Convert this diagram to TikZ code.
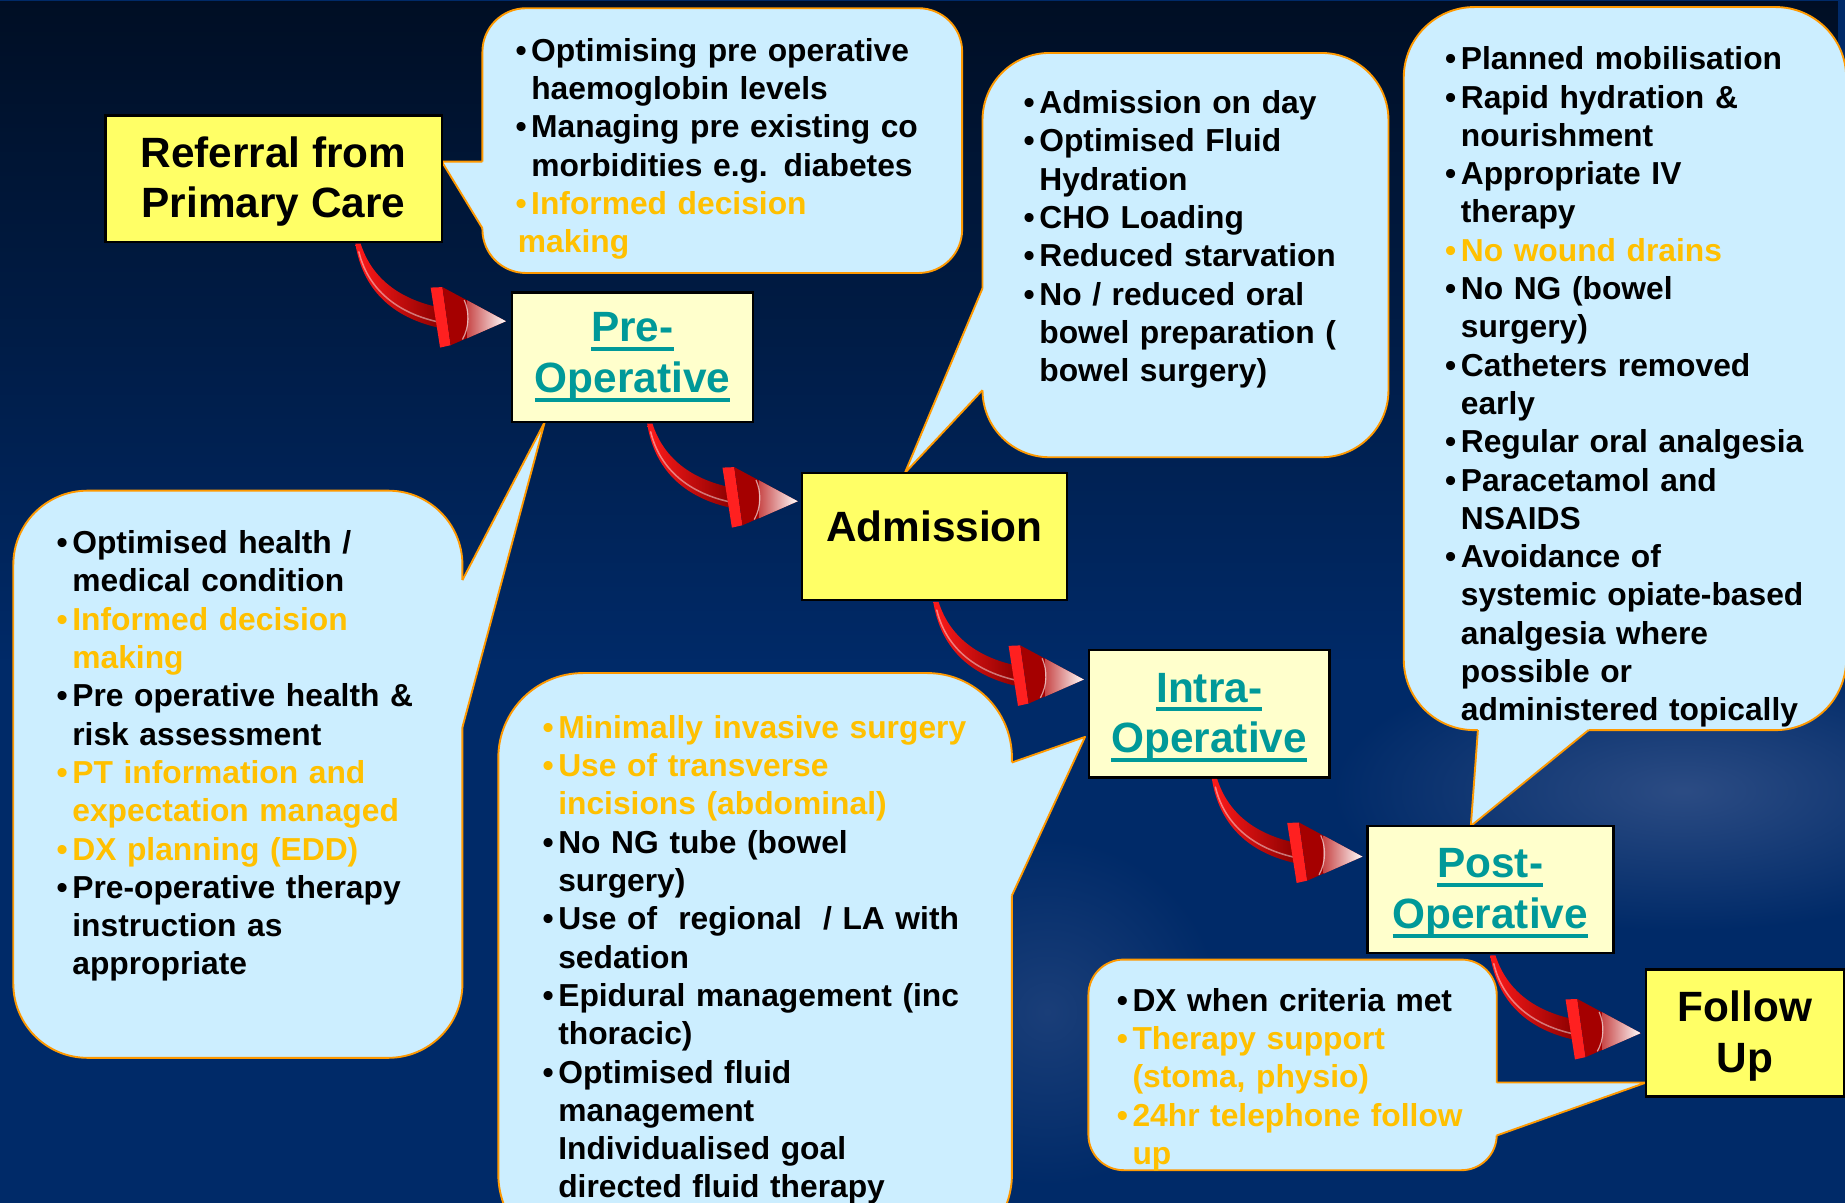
\documentclass[tikz,border=0pt]{standalone}
\usepackage{fontspec}
\setmainfont{Liberation Sans}
\usetikzlibrary{fadings}
\definecolor{bgbot}{HTML}{002A68}
\definecolor{glowc}{HTML}{2C4C84}
\definecolor{cfill}{HTML}{CCEEFF}
\definecolor{cline}{HTML}{FF9900}
\definecolor{yel}{HTML}{FFFF66}
\definecolor{lyel}{HTML}{FFFFCC}
\definecolor{teal2}{HTML}{009999}
\definecolor{orng}{HTML}{FFC000}
\definecolor{arrL}{HTML}{FF1A1A}
\definecolor{arrR}{HTML}{8A0000}
\definecolor{arrB}{HTML}{FF2020}
\definecolor{arrD}{HTML}{A50000}
\definecolor{arrC}{HTML}{C84848}
\tikzfading[name=topdark, top color=transparent!35, bottom color=transparent!100]
\tikzfading[name=glowfade, inner color=transparent!0, outer color=transparent!100]
\pgfdeclarelayer{back}
\pgfsetlayers{back,main}
\newcommand\bigtxt{\fontsize{36}{43}\selectfont\bfseries}
\newcommand\smtxt{\fontsize{27}{32.55}\selectfont\bfseries}
\newlength\bw \setlength\bw{11.3pt}
\newcommand\bul{\makebox[\bw][l]{\hspace*{-2pt}•}}
\newcommand\cont{\hspace*{\bw}}
\newcommand\up{\rule{0pt}{31pt}}
\newsavebox\ulbox
\newcommand\ulx[1]{\sbox\ulbox{#1}\rlap{\rule[-7.8pt]{\wd\ulbox}{3.4pt}}\usebox\ulbox}
\newcommand\ptr[5]{%
  \fill[cfill] (#1) -- (#2) -- ([shift={(#4,#5)}]#2) -- ([shift={(#4,#5)}]#3) -- (#3) -- cycle;
  \draw[ptrline] (#2) -- (#1) -- (#3);}
\tikzset{redarrow/.pic={
  \shade[left color=arrL, right color=arrR] (0,0) .. controls (6,38) and (30,63) .. (73,72) -- (70,54) .. controls (38,47) and (14,30) .. (4.5,0) -- cycle;
  \draw[white, opacity=0.45, line width=1.3pt, line cap=round] (3,7) .. controls (10,36) and (32,58) .. (70,66.5);
  \fill[arrB] (64,37.4) -- (74,37) -- (81,86.4) -- (72,88.4) -- cycle;
  \fill[arrD] (74,37) -- (128,66) -- (81,86.4) -- cycle;
  \shade[left color=arrC, right color=white] (95,48.2) -- (128,66) -- (95,80.5) -- cycle;
  \draw[white, opacity=0.6, line width=1pt] (92.5,48) .. controls (97,58) and (97,71) .. (91,81.5);
}}
\begin{document}
\begin{tikzpicture}[x=1pt,y=-1pt,
  box/.style={draw=black, line width=2.2pt, inner sep=0pt, outer sep=0pt, align=center, font=\bigtxt},
  callout/.style={draw=cline, line width=1.6pt, fill=cfill, rounded corners=#1, inner sep=0pt, outer sep=0pt},
  ptrline/.style={draw=cline, line width=1.6pt, line join=round},
  ctext/.style={anchor=base west, inner sep=0pt, outer sep=0pt, text width=560pt, align=left, font=\smtxt},
]
\useasboundingbox (0,0) rectangle (1568,1022);

% process boxes
\node[box, fill=yel, minimum width=286, minimum height=107.5] (ref) at (232.5,151.75) {\up Referral from\\Primary Care};
\node[box, fill=lyel, text=teal2, minimum width=205, minimum height=110] (pre) at (537.5,303.5) {\ulx{Pre-}\\\ulx{Operative}};
\node[box, fill=yel, minimum width=225, minimum height=108] (adm) at (794.15,456) {\raisebox{17pt}{Admission}};
\node[box, fill=lyel, text=teal2, minimum width=204, minimum height=108.5] (intra) at (1027.65,606.75) {\up\ulx{Intra-}\\\ulx{Operative}};
\node[box, fill=lyel, text=teal2, minimum width=209, minimum height=108] (post) at (1266.5,756) {\up\ulx{Post-}\\\ulx{Operative}};
\node[box, fill=yel, minimum width=168, minimum height=108] (fol) at (1483,878) {\up Follow\\Up};

\begin{pgfonlayer}{back}
  \fill[bgbot] (0,0) rectangle (1568,1022);
  \fill[black, path fading=topdark] (0,0) rectangle (1568,560);
  \fill[glowc, path fading=glowfade] (1430,672) ellipse [x radius=300, y radius=120];
  \fill[glowc, path fading=glowfade, opacity=0.6] (890,860) ellipse [x radius=150, y radius=150];
  % callout bodies
  \node[callout=37, minimum width=407.7, minimum height=225] (cA) at (613.85,119.5) {};
  \node[callout=57, minimum width=345, minimum height=343.6] (cB) at (1007.5,216.8) {};
  \node[callout=60, minimum width=376, minimum height=614.5] (cC) at (1381,313.25) {};
  \node[callout=63, minimum width=381.7, minimum height=482] (cD) at (202.15,658) {};
  \node[callout=72, minimum width=436.5, minimum height=498] (cE) at (641.75,821) {};
  \node[callout=30, minimum width=347, minimum height=179] (cF) at (1098.5,905) {};
  % pointers
  \coordinate (pA) at ([yshift=14.35pt]ref.east);
  \coordinate (a1) at ([yshift=-17.9pt]cA.west);
  \coordinate (a2) at ([yshift=-74.5pt]cA.west);
  \ptr{pA}{a1}{a2}{3}{0}
  \coordinate (pB) at ([xshift=-25.15pt]adm.north);
  \coordinate (b1) at ([yshift=-28.2pt]cB.west);
  \coordinate (b2) at ([yshift=-114.7pt]cB.west);
  \ptr{pB}{b1}{b2}{3}{0}
  \coordinate (pC) at ([xshift=-16.5pt]post.north);
  \coordinate (c1) at ([xshift=-125pt]cC.south);
  \coordinate (c2) at ([xshift=-31pt]cC.south);
  \ptr{pC}{c1}{c2}{0}{-3}
  \coordinate (pD) at ([xshift=-74.5pt]pre.south);
  \coordinate (d1) at ([yshift=165pt]cD.east);
  \coordinate (d2) at ([yshift=40pt]cD.east);
  \ptr{pD}{d1}{d2}{-3}{0}
  \coordinate (pE) at ([xshift=-3.5pt,yshift=-19.5pt]intra.west);
  \coordinate (e1) at ([yshift=173pt]cE.east);
  \coordinate (e2) at ([yshift=60pt]cE.east);
  \ptr{pE}{e1}{e2}{-3}{0}
  \coordinate (pF) at ([yshift=-42pt]fol.west);
  \coordinate (f1) at ([yshift=-15pt]cF.east);
  \coordinate (f2) at ([yshift=-60pt]cF.east);
  \ptr{pF}{f1}{f2}{-3}{0}
\end{pgfonlayer}

% red curved arrows between stages
\pic (ar1) at ([xshift=69.5pt,yshift=-1.5pt]ref.south) {redarrow};
\pic (ar2) at ([xshift=12.5pt,yshift=-1.5pt]pre.south) {redarrow};
\pic (ar3) at ([xshift=-1pt,yshift=-1.5pt]adm.south) {redarrow};
\pic (ar4) at ([xshift=2.3pt,yshift=-1pt]intra.south) {redarrow};
\pic (ar5) at ([yshift=-2pt]post.south) {redarrow};

% callout texts
\node[ctext] (xA) at (440.2,52) {%
\bul Optimising pre operative\\
\cont haemoglobin levels\\
\bul Managing pre existing co\\
\cont morbidities e.g. diabetes\\
{\color{orng}\bul Informed decision}\\
{\color{orng}making}};

\node[ctext] (xB) at (872,96.5) {%
\bul Admission on day\\
\bul Optimised Fluid\\
\cont Hydration\\
\bul CHO Loading\\
\bul Reduced starvation\\
\bul No / reduced oral\\
\cont bowel preparation (\\
\cont bowel surgery)};

\node[ctext] (xC) at (1230.2,59.3) {%
\bul Planned mobilisation\\
\bul Rapid hydration \&\\
\cont nourishment\\
\bul Appropriate IV\\
\cont therapy\\
{\color{orng}\bul No wound drains}\\
\bul No NG (bowel\\
\cont surgery)\\
\bul Catheters removed\\
\cont early\\
\bul Regular oral analgesia\\
\bul Paracetamol and\\
\cont NSAIDS\\
\bul Avoidance of\\
\cont systemic opiate-based\\
\cont analgesia where\\
\cont possible or\\
\cont administered topically};

\node[ctext] (xD) at (50.2,470.5) {%
\bul Optimised health /\\
\cont medical condition\\
{\color{orng}\bul Informed decision}\\
{\color{orng}\cont making}\\
\bul Pre operative health \&\\
\cont risk assessment\\
{\color{orng}\bul PT information and}\\
{\color{orng}\cont expectation managed}\\
{\color{orng}\bul DX planning (EDD)}\\
\bul Pre-operative therapy\\
\cont instruction as\\
\cont appropriate};

\node[ctext] (xE) at (463.2,627.5) {%
{\color{orng}\bul Minimally invasive surgery}\\
{\color{orng}\bul Use of transverse}\\
{\color{orng}\cont incisions (abdominal)}\\
\bul No NG tube (bowel\\
\cont surgery)\\
\bul Use of\ \ regional\ \ / LA with\\
\cont sedation\\
\bul Epidural management (inc\\
\cont thoracic)\\
\bul Optimised fluid\\
\cont management\\
\cont Individualised goal\\
\cont directed fluid therapy};

\node[ctext] (xF) at (951.2,859.5) {%
\bul DX when criteria met\\
{\color{orng}\bul Therapy support}\\
{\color{orng}\cont (stoma, physio)}\\
{\color{orng}\bul 24hr telephone follow}\\
{\color{orng}\cont up}};
\end{tikzpicture}
\end{document}
